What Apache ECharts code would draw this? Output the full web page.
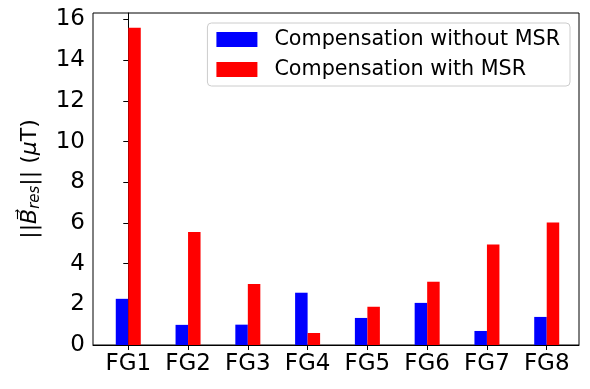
<!DOCTYPE html>
<html>
<head>
<meta charset="utf-8">
<script src="https://cdn.jsdelivr.net/npm/echarts@6/dist/echarts.min.js"></script>
<style>
  html, body { margin: 0; padding: 0; background: #fff; }
  #chart { width: 590px; height: 389px; }
</style>
</head>
<body>
<div id="chart"></div>
<script>
// data
const categories = ['FG1', 'FG2', 'FG3', 'FG4', 'FG5', 'FG6', 'FG7', 'FG8'];
const withoutMSR = [2.27, 0.99, 1.0, 2.57, 1.33, 2.07, 0.69, 1.38];
const withMSR = [15.6, 5.55, 3.0, 0.59, 1.88, 3.11, 4.94, 6.02];
const yTicks = [0, 2, 4, 6, 8, 10, 12, 14, 16];
const xTicks = categories.map((c, i) => i);

const font = 'DejaVu Sans';

const toPairs = arr => arr.map((v, i) => [i, v]);

let myChart = echarts.init(document.getElementById('chart'));

let option = {
  animation: false,
  textStyle: { fontFamily: font },
  grid: {
    left: 93,
    right: 11,
    top: 13,
    bottom: 44,
    show: true,
    borderColor: '#000',
    borderWidth: 1
  },
  legend: {
    orient: 'vertical',
    right: 20,
    top: 23,
    padding: [6, 10, 6, 9],
    itemWidth: 41,
    itemHeight: 15,
    itemGap: 9,
    borderColor: '#cccccc',
    borderWidth: 1,
    borderRadius: 4,
    icon: 'rect',
    textStyle: {
      fontFamily: font,
      fontSize: 20.7,
      color: '#000',
      lineHeight: 21,
      padding: [0, 0, 0, 12]
    }
  },
  xAxis: {
    type: 'value',
    min: -0.59,
    max: 7.54,
    axisLine: { show: true, onZero: false, lineStyle: { color: '#000' } },
    splitLine: { show: false },
    axisTick: {
      show: true,
      inside: false,
      customValues: xTicks,
      length: 5,
      lineStyle: { color: '#000' }
    },
    axisLabel: {
      customValues: xTicks,
      formatter: v => categories[Math.round(v)],
      fontFamily: font,
      fontSize: 23,
      color: '#000',
      margin: 8
    }
  },
  yAxis: {
    type: 'value',
    min: 0,
    max: 16.32,
    name: '{n|||}{i|B⃗}{s|res}{n||| (}{i|μ}{n|T)}',
    nameLocation: 'middle',
    nameRotate: 90,
    nameGap: 50,
    nameTextStyle: {
      rich: {
        n: { fontFamily: font, fontSize: 22, color: '#000' },
        i: { fontFamily: font, fontSize: 22, fontStyle: 'italic', color: '#000' },
        s: { fontFamily: font, fontSize: 15, fontStyle: 'italic', color: '#000', padding: [10, 0, 0, 0] }
      }
    },
    axisLine: { show: true, lineStyle: { color: '#000' } },
    splitLine: { show: false },
    axisTick: {
      show: true,
      inside: false,
      customValues: yTicks,
      length: 5,
      lineStyle: { color: '#000' }
    },
    axisLabel: {
      customValues: yTicks,
      fontFamily: font,
      fontSize: 23,
      color: '#000',
      margin: 8
    }
  },
  series: [
    {
      name: 'Compensation without MSR',
      type: 'bar',
      data: toPairs(withoutMSR),
      barWidth: 12.5,
      barGap: '0%',
      itemStyle: { color: '#0000ff' }
    },
    {
      name: 'Compensation with MSR',
      type: 'bar',
      data: toPairs(withMSR),
      barWidth: 12.5,
      barGap: '0%',
      itemStyle: { color: '#ff0000' }
    }
  ]
};

myChart.setOption(option);
</script>
</body>
</html>
